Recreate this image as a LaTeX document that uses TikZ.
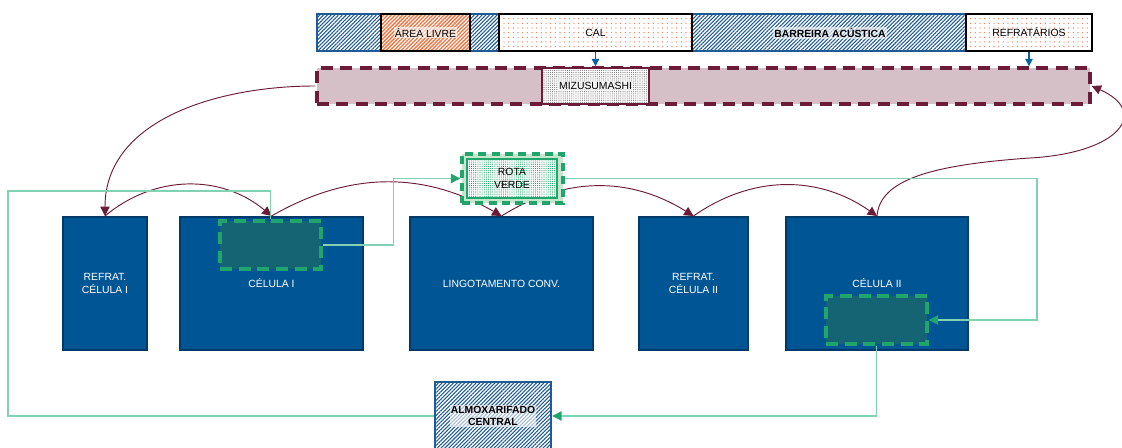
\documentclass[tikz,border=0pt]{standalone}
\usepackage{fontspec}
\setmainfont{Liberation Sans}
\usetikzlibrary{arrows.meta, fit, patterns.meta}

\definecolor{hatchblue}{RGB}{30,90,148}
\definecolor{cellblue}{RGB}{0,85,148}
\definecolor{cellline}{RGB}{0,58,104}
\definecolor{orangeline}{RGB}{238,118,66}
\definecolor{orangedot}{RGB}{242,120,80}
\definecolor{maroon}{RGB}{108,28,56}
\definecolor{mizupink}{RGB}{214,192,200}
\definecolor{tealbox}{RGB}{20,100,115}
\definecolor{dashgreen}{RGB}{32,166,108}
\definecolor{linegreen}{RGB}{128,210,178}
\definecolor{rotafill}{RGB}{200,230,205}
\definecolor{arrowblue}{RGB}{0,96,168}

\begin{document}
\begin{tikzpicture}[x=0.75pt, y=0.75pt,
    font=\fontsize{7.8}{9.2}\selectfont,
    cell/.style={draw=cellline, line width=1.5pt, fill=cellblue, inner sep=0pt},
    celltext/.style={text=white, align=center},
    innerbox/.style={draw=dashgreen, line width=2.6pt, dash pattern=on 9pt off 5pt, fill=tealbox, inner sep=0pt},
    topbox/.style={draw=black, line width=1.8pt, inner sep=0pt, preaction={fill=white}},
    halo/.style={fill=white, fill opacity=0.6, text opacity=1, inner sep=0.8pt},
    curve/.style={draw=maroon, line width=0.7pt, -{Triangle[length=7pt, width=7pt]}},
    gline/.style={draw=linegreen, line width=0.9pt, -{Triangle[length=7pt, width=7pt, color=dashgreen]}},
    barrow/.style={draw=arrowblue, line width=0.9pt, -{Triangle[length=5.5pt, width=5.5pt]}}]
    \useasboundingbox (0,0) rectangle (1122,-448);

    % upper bars
    \node [fit={(317,-14) (1092,-51)}, draw=hatchblue, line width=1.5pt, inner sep=0pt,
           pattern={Lines[angle=45, distance=2pt, line width=0.8pt]}, pattern color=hatchblue] (topbar) {};
    \node [topbox, fit={(381,-14) (470,-51)}, pattern={Lines[angle=45, distance=2pt, line width=1pt]}, pattern color=orangeline,
           label={[halo]center:ÁREA LIVRE}] (livre) {};
    \node [topbox, fit={(499,-14) (692,-51)}, pattern={Dots[distance=3.5pt, radius=0.5pt]}, pattern color=orangedot,
           label={center:CAL}] (cal) {};
    \node [halo, font=\fontsize{7.8}{9.2}\selectfont\bfseries] at (830,-33) (barreira) {BARREIRA ACÚSTICA};
    \node [topbox, fit={(966,-14) (1092,-51)}, pattern={Dots[distance=3.5pt, radius=0.5pt]}, pattern color=orangedot,
           label={center:REFRATÁRIOS}] (refr) {};

    \node [fit={(317,-68) (1090,-104)}, draw=maroon, fill=mizupink, line width=2.6pt, dash pattern=on 9pt off 5.5pt, inner sep=0pt] (mizubar) {};
    \node [fit={(542,-68) (649,-104)}, draw=maroon, line width=1.6pt, inner sep=0pt, preaction={fill=white},
           pattern={Dots[distance=1.6pt, radius=0.45pt]}, pattern color=gray, label={[halo]center:MIZUSUMASHI}] (mizu) {};

    \draw [barrow] (cal.south) -- (cal.south |- mizubar.north);
    \draw [barrow] (refr.south) -- (refr.south |- mizubar.north);

    % cells
    \node [cell, fit={(63,-217) (147,-350)}, label={[celltext]center:REFRAT.\\CÉLULA I}] (refrat1) {};
    \node [cell, fit={(180,-217) (363,-350)}, label={[celltext]center:CÉLULA I}] (cel1) {};
    \node [innerbox, fit={(220,-221) (321,-269)}] (in1) {};
    \node [cell, fit={(410,-217) (593,-350)}, label={[celltext]center:LINGOTAMENTO CONV.}] (ling) {};
    \node [cell, fit={(639,-217) (748,-350)}, label={[celltext]center:REFRAT.\\CÉLULA II}] (refrat2) {};
    \node [cell, fit={(786,-217) (968,-350)}, label={[celltext]center:CÉLULA II}] (cel2) {};
    \node [innerbox, fit={(826,-296) (927,-344)}] (in2) {};

    \node [fit={(435,-382) (551,-450)}, draw=hatchblue, line width=1.8pt, inner sep=0pt,
           pattern={Lines[angle=45, distance=2pt, line width=0.8pt]}, pattern color=hatchblue,
           label={[halo, align=center, font=\fontsize{7.8}{9.2}\selectfont\bfseries]center:ALMOXARIFADO\\CENTRAL}] (alm) {};

    % mizusumashi route
    \draw [curve] (mizubar.west) to [out=180, in=90] (refrat1.north);
    \draw [curve] (refrat1.north) to [bend left=40] (cel1.north);
    \draw [curve] (cel1.north) to [bend left=30] (ling.north);
    \draw [curve] (ling.north) to [bend left=32] (refrat2.north);
    \draw [curve] (refrat2.north) to [bend left=35] (cel2.north);
    \draw [curve] (cel2.north) .. controls (880,-180) and (930,-165) .. (1030,-158)
        .. controls (1120,-153) and (1150,-112) .. (mizubar.east);

    % rota verde
    \node [fit={(462,-154) (563,-203)}, draw=dashgreen, fill=rotafill, line width=2.6pt, dash pattern=on 6pt off 4pt, inner sep=0pt] (rota) {};
    \node [fit={(467,-159) (557,-198)}, draw=dashgreen, line width=2pt, inner sep=0pt, preaction={fill=white},
           pattern={Dots[distance=1.6pt, radius=0.45pt]}, pattern color=dashgreen, label={[align=center]center:ROTA\\VERDE}] (rotain) {};

    \draw [gline] (in1.east) -- ++(71,0) |- (rota.west);
    \draw [gline] (rota.east) -| (1037,-320) -- (in2.east);
    \draw [gline] (in2.south) |- (alm.east);
    \draw [draw=linegreen, line width=0.9pt] (alm.west) -| (8,-191) -| (in1.north);
\end{tikzpicture}
\end{document}
